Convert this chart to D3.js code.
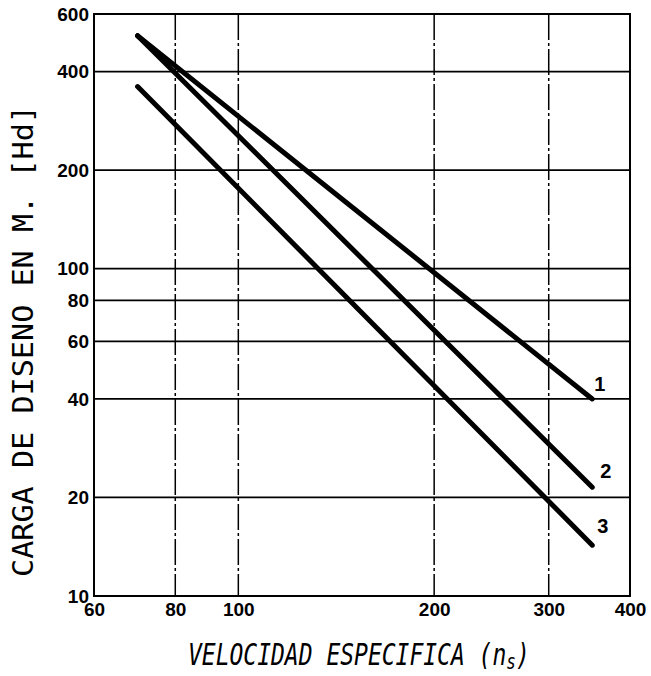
<!DOCTYPE html>
<html>
<head>
<meta charset="utf-8">
<script src="https://cdn.jsdelivr.net/npm/d3@7"></script>
<style>
  body { margin: 0; background: #fff; }
  svg { display: block; }
  .tick text { font-family: 'Liberation Sans', Arial, sans-serif; font-weight: bold; font-size: 19px; fill: #000; }
</style>
</head>
<body>
<svg id="chart" width="651" height="676"></svg>
<script>
// datos (log-log)
const speedTicks = [60, 80, 100, 200, 300, 400];
const headTicks = [10, 20, 40, 60, 80, 100, 200, 400, 600];
const speedGrid = [80, 100, 200, 300];
const headGrid = [20, 40, 60, 80, 100, 200, 400];

const curveNames = ["1", "2", "3"];
const speedRange = [70, 350];
const headCurve1 = [515, 40];
const headCurve2 = [515, 21.5];
const headCurve3 = [360, 14.3];

const curves = [headCurve1, headCurve2, headCurve3].map(function (h, i) {
  return {
    name: curveNames[i],
    points: speedRange.map(function (n, j) { return { n: n, h: h[j] }; })
  };
});

function drawChart() {
  var plotLeft = 94, plotRight = 630, plotTop = 14, plotBottom = 596;
  var svg = d3.select("#chart");

  var x = d3.scaleLog().domain([60, 400]).range([plotLeft, plotRight]);
  var y = d3.scaleLog().domain([10, 600]).range([plotBottom, plotTop]);

  // lineas de rejilla
  svg.append("g").selectAll("line")
     .data(headGrid)
     .enter()
     .append("line")
     .attr("x1", plotLeft).attr("x2", plotRight)
     .attr("y1", function (d) { return y(d); })
     .attr("y2", function (d) { return y(d); })
     .attr("stroke", "#000")
     .attr("stroke-width", 1.7);

  svg.append("g").selectAll("line")
     .data(speedGrid)
     .enter()
     .append("line")
     .attr("y1", plotTop).attr("y2", plotBottom)
     .attr("x1", function (d) { return x(d); })
     .attr("x2", function (d) { return x(d); })
     .attr("stroke", "#000")
     .attr("stroke-width", 1.5)
     .attr("stroke-dasharray", "26,3,3,3");

  // marco
  svg.append("rect")
     .attr("x", plotLeft).attr("y", plotTop)
     .attr("width", plotRight - plotLeft).attr("height", plotBottom - plotTop)
     .attr("fill", "none")
     .attr("stroke", "#000")
     .attr("stroke-width", 2);

  // ejes
  var yAxis = d3.axisLeft(y).tickValues(headTicks).tickSize(0).tickPadding(5)
                .tickFormat(d3.format("d"));
  var xAxis = d3.axisBottom(x).tickValues(speedTicks).tickSize(0).tickPadding(7)
                .tickFormat(d3.format("d"));

  var gy = svg.append("g").attr("transform", "translate(" + plotLeft + ",0)").call(yAxis);
  var gx = svg.append("g").attr("transform", "translate(0," + plotBottom + ")").call(xAxis);
  [gx, gy].forEach(function (g) {
    g.attr("font-size", null).attr("font-family", null);
    g.select(".domain").remove();
  });

  // curvas
  var line = d3.line()
               .x(function (d) { return x(d.n); })
               .y(function (d) { return y(d.h); });

  svg.append("g").selectAll("path")
     .data(curves)
     .enter()
     .append("path")
     .attr("d", function (d) { return line(d.points); })
     .attr("fill", "none")
     .attr("stroke", "#000")
     .attr("stroke-width", 5)
     .attr("stroke-linecap", "round");

  var labelOffset = [[2, -8], [8, -9], [5, -12]];
  svg.append("g").selectAll("text")
     .data(curves)
     .enter()
     .append("text")
     .attr("x", function (d, i) { return x(d.points[1].n) + labelOffset[i][0]; })
     .attr("y", function (d, i) { return y(d.points[1].h) + labelOffset[i][1]; })
     .style("font-family", "'Liberation Sans', Arial, sans-serif")
     .style("font-weight", "bold")
     .style("font-size", "20px")
     .text(function (d) { return d.name; });

  // titulos
  svg.append("text")
     .attr("transform", "translate(33,341) rotate(-90)")
     .attr("text-anchor", "middle")
     .attr("textLength", 472)
     .attr("lengthAdjust", "spacingAndGlyphs")
     .style("font-family", "'DejaVu Sans Mono', monospace")
     .style("font-size", "29px")
     .text("CARGA DE DISENO EN M. [Hd]");

  // titulo horizontal: letra estrecha y alta como en el original
  var xt = svg.append("text")
     .attr("transform", "translate(188,665) scale(1,1.3)")
     .style("font-family", "'DejaVu Sans Mono', monospace")
     .style("font-style", "italic")
     .style("font-size", "23px");
  xt.append("tspan").text("VELOCIDAD ESPECIFICA (n");
  xt.append("tspan").attr("dy", 3).style("font-size", "16px").text("s");
  xt.append("tspan").attr("dy", -3).text(")");
}

drawChart();
</script>
</body>
</html>
